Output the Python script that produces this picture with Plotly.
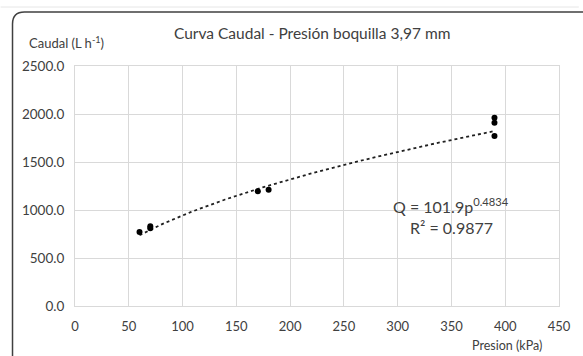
import plotly.graph_objects as go
import numpy as np

# Data
presion = [60, 70, 70, 170, 180, 390, 390, 390]
caudal = [770, 810, 830, 1195, 1210, 1960, 1910, 1770]
fit_a = 101.9
fit_b = 0.4834
x_ticks = [0, 50, 100, 150, 200, 250, 300, 350, 400, 450]
y_ticks = [0, 500, 1000, 1500, 2000, 2500]

W, H = 583, 356
L, R, T, B = 75, 20, 66, 50
pw, ph = W - L - R, H - T - B

def px(xp):
    return (xp - L) / pw

def py(yp):
    return (H - B - yp) / ph

fx = np.linspace(min(presion), max(presion), 200)
fy = fit_a * fx ** fit_b

fig = go.Figure()
fig.add_trace(go.Scatter(x=fx, y=fy, mode="lines",
                         line=dict(color="#202020", width=1.8, dash="dot"),
                         showlegend=False, hoverinfo="skip"))
fig.add_trace(go.Scatter(x=presion, y=caudal, mode="markers",
                         marker=dict(color="black", size=6),
                         showlegend=False))

gray = "#d9d9d9"
tickc = "#404040"
font = "Lato, 'Open Sans', sans-serif"

fig.update_xaxes(range=[0, 450], tickvals=x_ticks, ticktext=[str(v) for v in x_ticks],
                 showgrid=True, gridcolor=gray, gridwidth=1, zeroline=False,
                 showline=True, linecolor=gray, mirror=True, ticks="",
                 tickfont=dict(size=13, color=tickc, family=font), ticklabelstandoff=8)
fig.update_yaxes(range=[0, 2500], tickvals=y_ticks, ticktext=[f"{v:.1f}" for v in y_ticks],
                 showgrid=True, gridcolor=gray, gridwidth=1, zeroline=False,
                 showline=True, linecolor=gray, mirror=True, ticks="",
                 tickfont=dict(size=13.5, color=tickc, family=font), ticklabelstandoff=7)

# Chart frame (rounded rectangle) in paper coords
x0, y0, r = 12, 12, 12
x1, y1 = 600, 370
def P(a, b):
    return f"{px(a):.5f},{py(b):.5f}"
path = (f"M {P(x0, y1)} L {P(x0, y0 + r)} Q {P(x0, y0)} {P(x0 + r, y0)} "
        f"L {P(x1, y0)}")
fig.add_shape(type="path", path=path, xref="paper", yref="paper",
              line=dict(color="#404040", width=1.5), layer="below")
# faint sheet gridline above frame
fig.add_shape(type="line", xref="paper", yref="paper", x0=px(0), x1=px(583),
              y0=py(7), y1=py(7), line=dict(color="#e6e6e6", width=1), layer="below")

ann = [
    dict(text="Curva Caudal - Presión boquilla 3,97 mm", x=px(314), y=py(33),
         font=dict(size=15.5, color="#404040", family=font)),
    dict(text="Caudal (L h<sup>-1</sup>)", x=px(66), y=py(43),
         font=dict(size=13, color="#404040", family=font)),
    dict(text="Presion (kPa)", x=px(511), y=py(345),
         font=dict(size=12.5, color="#404040", family=font)),
    dict(text="Q = 101.9p<sup>0.4834</sup>", x=px(454), y=py(205),
         font=dict(size=16, color="#404040", family=font)),
    dict(text="R² = 0.9877", x=px(455), y=py(227),
         font=dict(size=16, color="#404040", family=font)),
]
for a in ann:
    fig.add_annotation(xref="paper", yref="paper", showarrow=False,
                       xanchor="center", yanchor="middle", **a)

fig.update_layout(width=W, height=H, margin=dict(l=L, r=R, t=T, b=B),
                  paper_bgcolor="white", plot_bgcolor="white",
                  font=dict(family=font))
fig.write_html("out.html")
